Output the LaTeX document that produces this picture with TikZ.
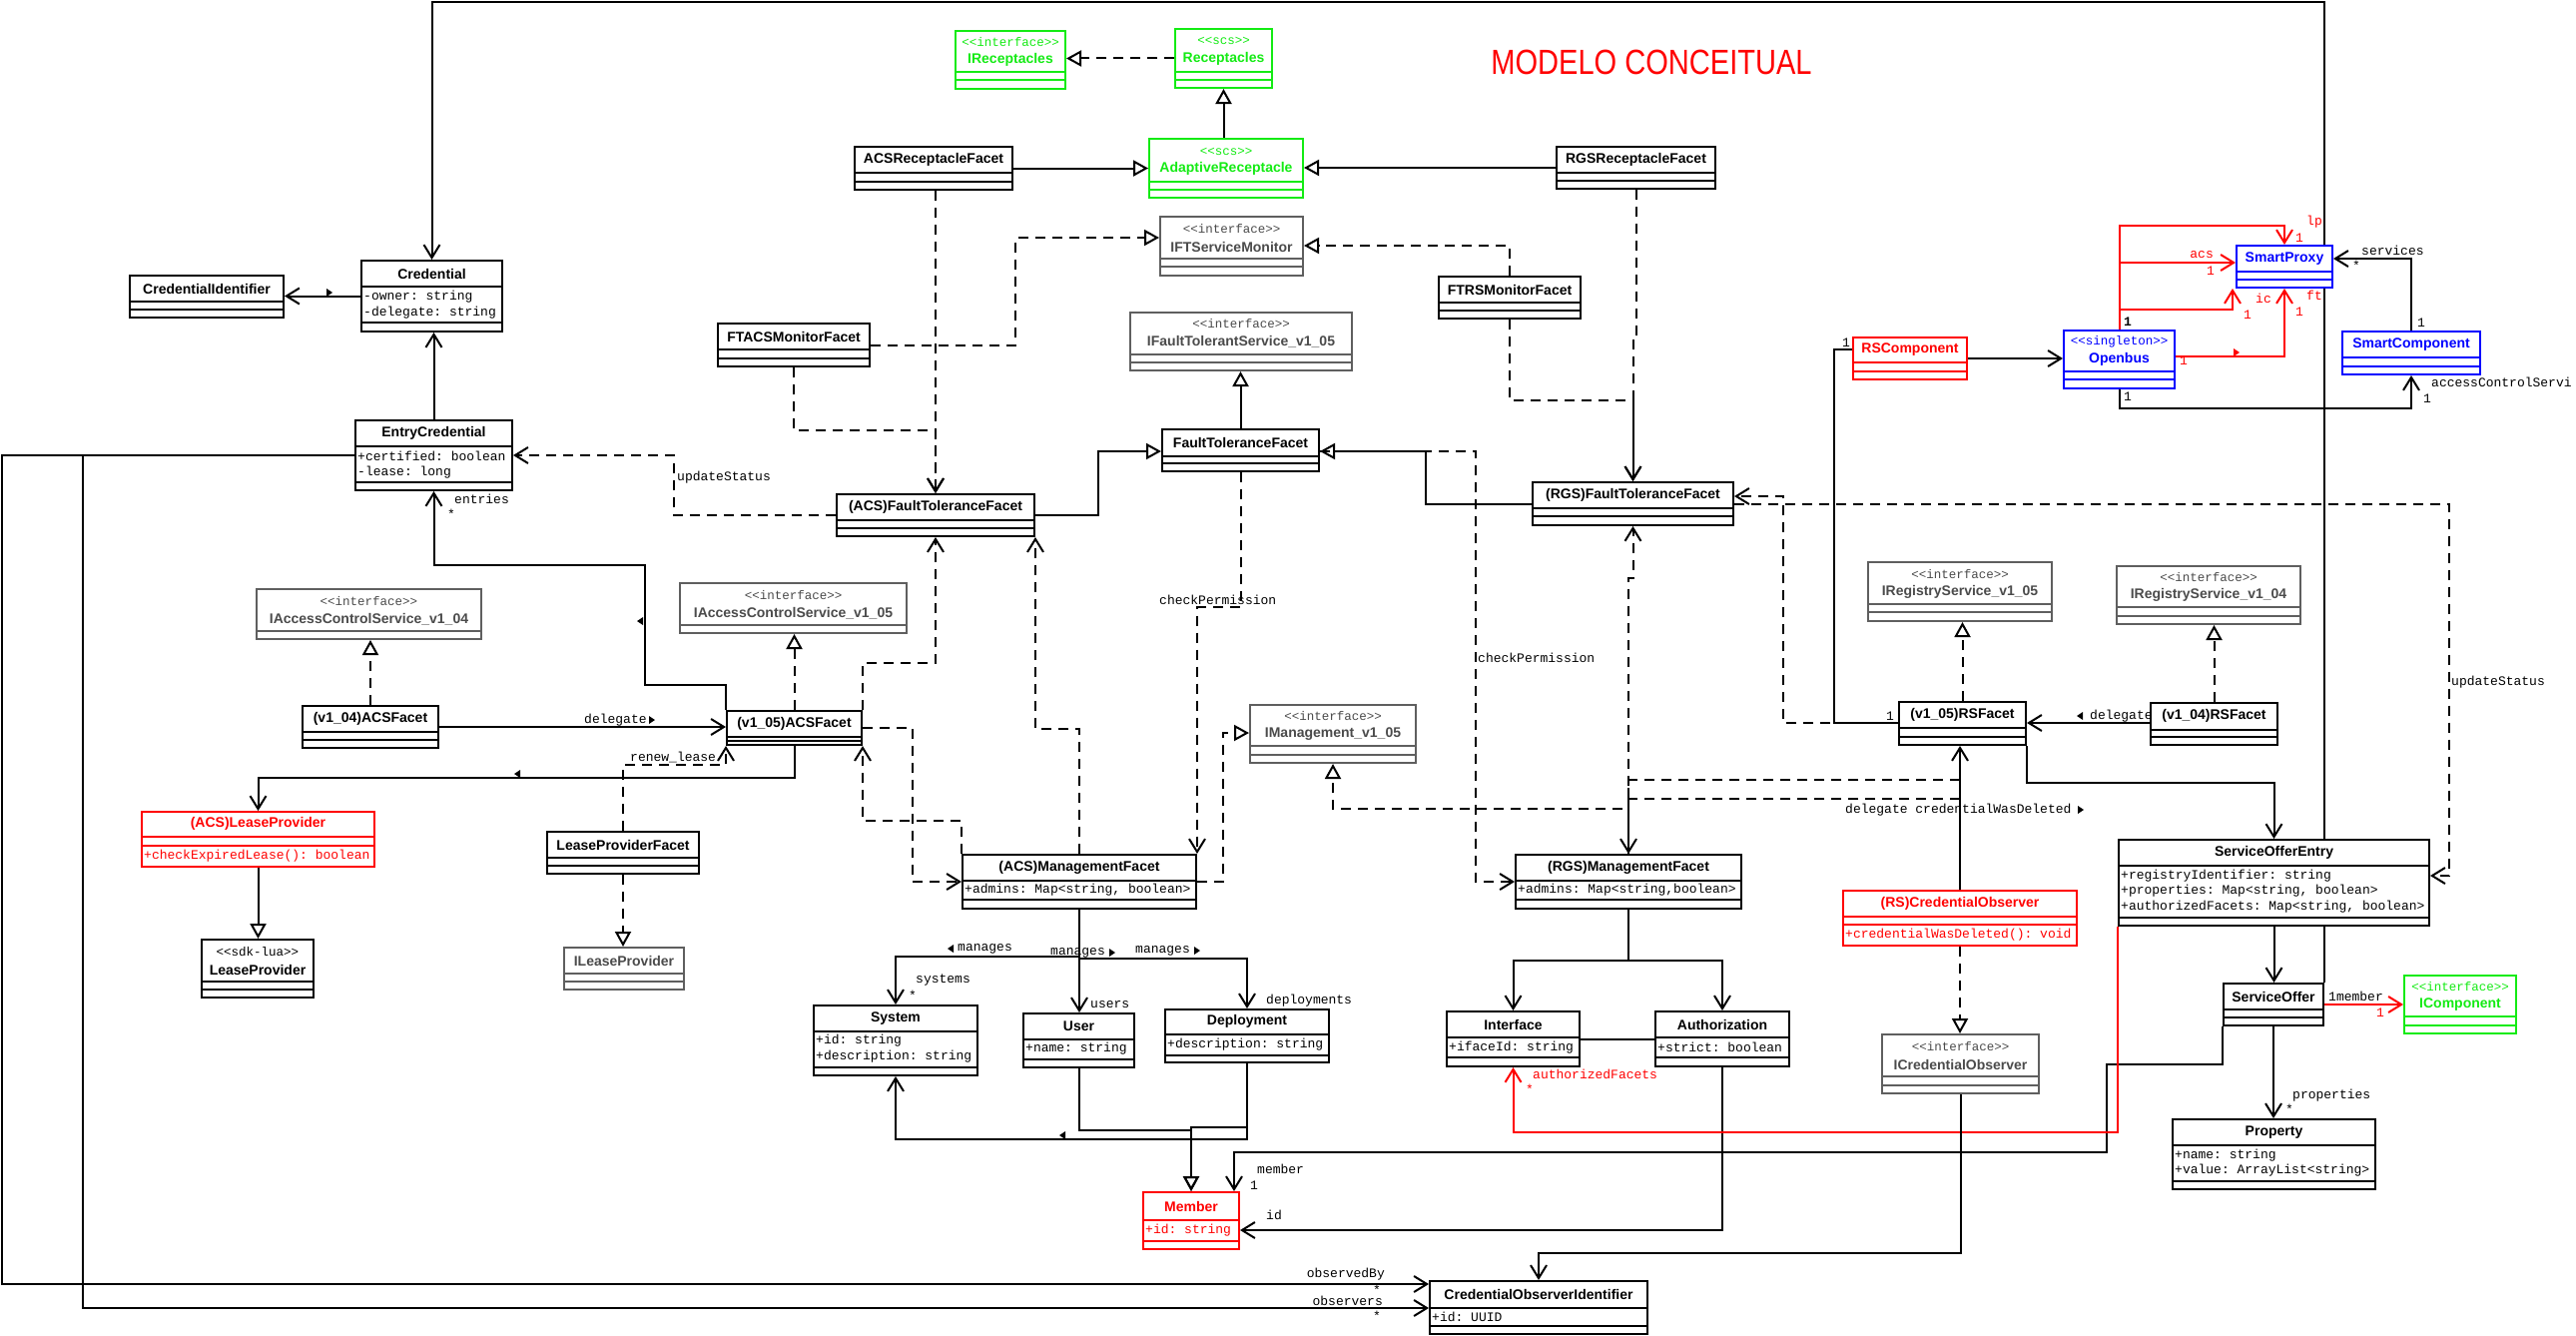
\documentclass[tikz,border=0pt]{standalone}
\usepackage{fontspec}
\setmainfont{Liberation Sans}
\setmonofont{Liberation Mono}
\usepackage{graphicx}
\usetikzlibrary{arrows.meta,fit,calc}
\definecolor{ured}{RGB}{255,0,0}
\definecolor{ugreen}{RGB}{20,235,20}
\definecolor{ublue}{RGB}{0,0,255}
\definecolor{ugray}{RGB}{95,95,95}
\definecolor{ugtxt}{RGB}{75,75,75}
\pgfdeclarelayer{back}
\pgfdeclarelayer{bg}
\pgfsetlayers{back,bg,main}
\tikzset{
 umlbox/.style={draw, fill=white, line width=2pt, inner sep=0pt},
 sepline/.style={line width=2pt},
 cname/.style={font=\fontsize{14}{16}\selectfont\bfseries, inner sep=0pt},
 stereo/.style={font=\ttfamily\fontsize{12.5}{14}\selectfont, inner sep=0pt},
 attr/.style={font=\ttfamily\fontsize{13}{15}\selectfont, inner sep=0pt, anchor=west},
 lbl/.style={font=\ttfamily\fontsize{13}{15}\selectfont, inner sep=0pt, anchor=west},
 conn/.style={line width=2pt},
 assoc/.style={conn, -{Straight Barb[length=13pt,width=16pt]}},
 dep/.style={assoc, dash pattern=on 10pt off 7pt},
 dashln/.style={conn, dash pattern=on 10pt off 7pt},
 gen/.style={conn, -{Triangle[open,length=15pt,width=16pt]}},
 real/.style={gen, dash pattern=on 10pt off 7pt},
}
\newcommand\ubox[8]{%
 \node[umlbox, draw=#2, fit={(#3,#4) (#5,#6)}] (#1) {};
 \draw[sepline, #2] (#3,#7) -- (#5,#7);
 \draw[sepline, #2] (#3,#8) -- (#5,#8);
}
\newcommand\clsT[4]{\node[cname, text=#3] (#1-t) at (#1.north |- 0,#2) {#4};}
\newcommand\clsS[4]{\node[stereo, text=#3] (#1-s) at (#1.north |- 0,#2) {#4};}
\newcommand\clsA[5]{\node[attr, text=#4, xshift=3pt] (#1-a#2) at (#1.west |- 0,#3) {#5};}
\newcommand\lblx[5]{\node[lbl, text=#4] (#1) at (#2,#3) {#5};}
\newcommand\mR[3]{\fill[#3] (#1,#2) -- ++(-6,-4) -- ++(0,8) -- cycle;}
\newcommand\mL[3]{\fill[#3] (#1,#2) -- ++(6,-4) -- ++(0,8) -- cycle;}
\begin{document}
\begin{tikzpicture}[x=1pt,y=-1pt]
\useasboundingbox (0,0) rectangle (2580,1338);
\begin{pgfonlayer}{back}
\fill[white] (0,0) rectangle (2580,1338);
\end{pgfonlayer}

\node[text=ured, font=\fontsize{35}{40}\selectfont, inner sep=0pt] (title) at (1654,62) {\scalebox{0.83}[1]{MODELO CONCEITUAL}};

% ---------- classes ----------
\ubox{CI}{black}{130}{276}{284}{318}{302}{310}
\clsT{CI}{289}{black}{CredentialIdentifier}
\ubox{Cred}{black}{362}{261}{503}{332}{287}{323}
\clsT{Cred}{274}{black}{Credential}
\clsA{Cred}{1}{297}{black}{-owner: string}
\clsA{Cred}{2}{313}{black}{-delegate: string}
\ubox{EC}{black}{356}{421}{513}{491}{447}{483}
\clsT{EC}{434}{black}{EntryCredential}
\clsA{EC}{1}{457}{black}{+certified: boolean}
\clsA{EC}{2}{473}{black}{-lease: long}
\ubox{IRecep}{ugreen}{957}{31}{1067}{89}{72}{80}
\clsS{IRecep}{42}{ugreen}{<<interface>>}
\clsT{IRecep}{60}{ugreen}{IReceptacles}
\ubox{Recep}{ugreen}{1177}{29}{1274}{88}{72}{80}
\clsS{Recep}{41}{ugreen}{<<scs>>}
\clsT{Recep}{59}{ugreen}{Receptacles}
\ubox{AR}{ugreen}{1151}{139}{1305}{198}{182}{190}
\clsS{AR}{152}{ugreen}{<<scs>>}
\clsT{AR}{169}{ugreen}{AdaptiveReceptacle}
\ubox{ACSRF}{black}{856}{147}{1014}{190}{173}{182}
\clsT{ACSRF}{160}{black}{ACSReceptacleFacet}
\ubox{RGSRF}{black}{1559}{147}{1718}{189}{173}{181}
\clsT{RGSRF}{160}{black}{RGSReceptacleFacet}
\ubox{IFTSM}{ugray}{1162}{217}{1305}{276}{259}{267}
\clsS{IFTSM}{229}{ugtxt}{<<interface>>}
\clsT{IFTSM}{247}{ugtxt}{IFTServiceMonitor}
\ubox{FTACS}{black}{719}{324}{871}{367}{350}{359}
\clsT{FTACS}{337}{black}{FTACSMonitorFacet}
\ubox{FTRS}{black}{1441}{277}{1583}{319}{303}{311}
\clsT{FTRS}{290}{black}{FTRSMonitorFacet}
\ubox{IFTS}{ugray}{1132}{313}{1354}{371}{355}{363}
\clsS{IFTS}{324}{ugtxt}{<<interface>>}
\clsT{IFTS}{342}{ugtxt}{IFaultTolerantService\_v1\_05}
\ubox{FTF}{black}{1164}{430}{1321}{472}{457}{464}
\clsT{FTF}{443}{black}{FaultToleranceFacet}
\ubox{ACSFTF}{black}{838}{495}{1036}{537}{521}{529}
\clsT{ACSFTF}{508}{black}{(ACS)FaultToleranceFacet}
\ubox{RGSFTF}{black}{1535}{483}{1736}{526}{509}{517}
\clsT{RGSFTF}{496}{black}{(RGS)FaultToleranceFacet}
\ubox{IACS4}{ugray}{257}{590}{482}{640}{632}{632}
\clsS{IACS4}{602}{ugtxt}{<<interface>>}
\clsT{IACS4}{620}{ugtxt}{IAccessControlService\_v1\_04}
\ubox{IACS5}{ugray}{681}{584}{908}{634}{626}{626}
\clsS{IACS5}{596}{ugtxt}{<<interface>>}
\clsT{IACS5}{614}{ugtxt}{IAccessControlService\_v1\_05}
\ubox{V4ACS}{black}{303}{707}{439}{749}{733}{741}
\clsT{V4ACS}{720}{black}{(v1\_04)ACSFacet}
\ubox{V5ACS}{black}{728}{712}{863}{746}{738}{742}
\clsT{V5ACS}{725}{black}{(v1\_05)ACSFacet}
\ubox{ACSLP}{ured}{142}{813}{375}{868}{838}{847}
\clsT{ACSLP}{825}{ured}{(ACS)LeaseProvider}
\clsA{ACSLP}{1}{857}{ured}{+checkExpiredLease(): boolean}
\ubox{LPF}{black}{548}{833}{700}{875}{859}{867}
\clsT{LPF}{846}{black}{LeaseProviderFacet}
\ubox{LP}{black}{202}{941}{314}{999}{983}{991}
\clsS{LP}{953}{black}{<<sdk-lua>>}
\clsT{LP}{971}{black}{LeaseProvider}
\ubox{ILP}{ugray}{565}{949}{685}{991}{975}{983}
\clsT{ILP}{962}{ugtxt}{ILeaseProvider}
\ubox{IMgmt}{ugray}{1252}{706}{1418}{764}{747}{756}
\clsS{IMgmt}{717}{ugtxt}{<<interface>>}
\clsT{IMgmt}{735}{ugtxt}{IManagement\_v1\_05}
\ubox{ACSMF}{black}{964}{856}{1198}{910}{882}{901}
\clsT{ACSMF}{869}{black}{(ACS)ManagementFacet}
\clsA{ACSMF}{1}{891}{black}{+admins: Map<string, boolean>}
\ubox{RGSMF}{black}{1518}{856}{1744}{910}{882}{901}
\clsT{RGSMF}{869}{black}{(RGS)ManagementFacet}
\clsA{RGSMF}{1}{891}{black}{+admins: Map<string,boolean>}
\ubox{System}{black}{815}{1007}{979}{1077}{1033}{1069}
\clsT{System}{1020}{black}{System}
\clsA{System}{1}{1042}{black}{+id: string}
\clsA{System}{2}{1058}{black}{+description: string}
\ubox{User}{black}{1025}{1015}{1136}{1069}{1041}{1061}
\clsT{User}{1028}{black}{User}
\clsA{User}{1}{1050}{black}{+name: string}
\ubox{Deployment}{black}{1167}{1011}{1331}{1064}{1036}{1057}
\clsT{Deployment}{1023}{black}{Deployment}
\clsA{Deployment}{1}{1046}{black}{+description: string}
\ubox{Member}{ured}{1145}{1194}{1241}{1251}{1222}{1243}
\clsT{Member}{1208}{ured}{Member}
\clsA{Member}{1}{1232}{ured}{+id: string}
\ubox{Interface}{black}{1449}{1013}{1582}{1068}{1039}{1059}
\clsT{Interface}{1026}{black}{Interface}
\clsA{Interface}{1}{1049}{black}{+ifaceId: string}
\ubox{Authorization}{black}{1658}{1013}{1792}{1068}{1039}{1059}
\clsT{Authorization}{1026}{black}{Authorization}
\clsA{Authorization}{1}{1049}{black}{+strict: boolean}
\ubox{COI}{black}{1432}{1283}{1650}{1336}{1310}{1328}
\clsT{COI}{1296}{black}{CredentialObserverIdentifier}
\clsA{COI}{1}{1319}{black}{+id: UUID}
\ubox{RSComp}{ured}{1856}{338}{1970}{380}{363}{372}
\clsT{RSComp}{350}{ured}{RSComponent}
\ubox{SP}{ublue}{2240}{246}{2336}{288}{272}{280}
\clsT{SP}{259}{ublue}{SmartProxy}
\ubox{OB}{ublue}{2067}{331}{2178}{389}{372}{380}
\clsS{OB}{342}{ublue}{<<singleton>>}
\clsT{OB}{360}{ublue}{Openbus}
\ubox{SC}{ublue}{2346}{332}{2484}{375}{358}{367}
\clsT{SC}{345}{ublue}{SmartComponent}
\ubox{IRS5}{ugray}{1871}{563}{2055}{622}{605}{613}
\clsS{IRS5}{575}{ugtxt}{<<interface>>}
\clsT{IRS5}{593}{ugtxt}{IRegistryService\_v1\_05}
\ubox{IRS4}{ugray}{2120}{567}{2304}{625}{608}{617}
\clsS{IRS4}{578}{ugtxt}{<<interface>>}
\clsT{IRS4}{596}{ugtxt}{IRegistryService\_v1\_04}
\ubox{V5RS}{black}{1902}{703}{2029}{746}{729}{738}
\clsT{V5RS}{716}{black}{(v1\_05)RSFacet}
\ubox{V4RS}{black}{2154}{704}{2281}{746}{731}{738}
\clsT{V4RS}{717}{black}{(v1\_04)RSFacet}
\ubox{SOE}{black}{2122}{841}{2433}{927}{867}{919}
\clsT{SOE}{854}{black}{ServiceOfferEntry}
\clsA{SOE}{1}{877}{black}{+registryIdentifier: string}
\clsA{SOE}{2}{892}{black}{+properties: Map<string, boolean>}
\clsA{SOE}{3}{908}{black}{+authorizedFacets: Map<string, boolean>}
\ubox{RSCO}{ured}{1846}{892}{2080}{947}{918}{926}
\clsT{RSCO}{905}{ured}{(RS)CredentialObserver}
\clsA{RSCO}{1}{936}{ured}{+credentialWasDeleted(): void}
\ubox{ICO}{ugray}{1885}{1036}{2042}{1095}{1078}{1087}
\clsS{ICO}{1048}{ugtxt}{<<interface>>}
\clsT{ICO}{1066}{ugtxt}{ICredentialObserver}
\ubox{SO}{black}{2227}{985}{2327}{1027}{1011}{1019}
\clsT{SO}{998}{black}{ServiceOffer}
\ubox{IComp}{ugreen}{2408}{977}{2520}{1035}{1018}{1027}
\clsS{IComp}{988}{ugreen}{<<interface>>}
\clsT{IComp}{1006}{ugreen}{IComponent}
\ubox{Prop}{black}{2176}{1121}{2379}{1191}{1147}{1183}
\clsT{Prop}{1134}{black}{Property}
\clsA{Prop}{1}{1157}{black}{+name: string}
\clsA{Prop}{2}{1172}{black}{+value: ArrayList<string>}

% ---------- connectors ----------
\begin{pgfonlayer}{bg}
\draw[assoc] (Cred.west) -- (Cred.west -| CI.east);
\draw[assoc] (SO.north east) -- (SO.north east |- 0,2) -- (Cred.north |- 0,2) -- (Cred.north);
\draw[assoc] (EC.north) -- (EC.north |- Cred.south);
\draw[assoc] (V5ACS.north west) -- (V5ACS.north west |- 0,686) -| (646,566) -| (EC.south);
\draw[assoc] (EC.west |- 0,456) -- (2,456) -- (2,1286) -- (COI.west |- 0,1286);
\draw[assoc] (EC.west |- 0,456) -| (83,1310) -- (COI.west |- 0,1310);
% receptacles
\draw[gen] (ACSRF.east) -- (ACSRF.east -| AR.west);
\draw[gen] (RGSRF.west) -- (RGSRF.west -| AR.east);
\draw[gen] (AR.north -| Recep.south) -- (Recep.south);
\draw[real] (Recep.west) -- (Recep.west -| IRecep.east);
\draw[real] (FTACS.east) -| (1017,238) -- (IFTSM.west |- 0,238);
\draw[real] (FTRS.north) |- (IFTSM.east |- 0,246);
\draw[dep] (ACSRF.south -| ACSFTF.north) -- (ACSFTF.north);
\draw[dep] (FTACS.south) |- (ACSFTF.north |- 0,431) -- (ACSFTF.north);
\draw[dep] (RGSRF.south) -- (RGSRF.south |- 0,335) -- (RGSFTF.north |- 0,335) -- (RGSFTF.north);
\draw[dep] (FTRS.south) |- (RGSFTF.north |- 0,401) -- (RGSFTF.north);
\draw[gen] (FTF.north) -- (FTF.north |- IFTS.south);
\draw[gen] (ACSFTF.east) -| (1100,452) -- (FTF.west |- 0,452);
\draw[gen] (RGSFTF.west) -| (1428,452) -- (FTF.east |- 0,452);
\draw[dep] (ACSFTF.west) -| (675,456) -- (EC.east |- 0,456);
\draw[dep] (FTF.south) |- (ACSMF.north east |- 0,608) -- (ACSMF.north east);
\draw[dep] (FTF.east |- 0,452) -- (1478,452) |- (RGSMF.west |- 0,883);
% ACS facets
\draw[real] (V4ACS.north) -- (V4ACS.north |- IACS4.south);
\draw[real] (V5ACS.north) -- (V5ACS.north |- IACS5.south);
\draw[assoc] (V4ACS.east) -- (V4ACS.east -| V5ACS.west);
\draw[assoc] (V5ACS.south) |- (ACSLP.north |- 0,779) -- (ACSLP.north);
\draw[dep] (LPF.north) |- (V5ACS.south west |- 0,766) -- (V5ACS.south west);
\draw[gen] (ACSLP.south) -- (ACSLP.south |- LP.north);
\draw[real] (LPF.south) -- (LPF.south |- ILP.north);
\draw[dep] (V5ACS.east) -| (914,883) -- (ACSMF.west |- 0,883);
\draw[dep] (ACSMF.north west) |- (V5ACS.south east |- 0,822) -- (V5ACS.south east);
\draw[dep] (V5ACS.north east) -- (V5ACS.north east |- 0,664) -| (ACSFTF.south);
\draw[dep] (ACSMF.north) -- (ACSMF.north |- 0,730) -| (ACSFTF.south east);
\draw[real] (ACSMF.east |- 0,883) -| (1225,734) -- (IMgmt.west |- 0,734);
% manages
\draw[assoc] (ACSMF.south) |- (System.north |- 0,958) -- (System.north);
\draw[assoc] (ACSMF.south) -- (ACSMF.south |- User.north);
\draw[assoc] (ACSMF.south) |- (Deployment.north |- 0,960) -- (Deployment.north);
\draw[gen] (User.south) |- (Member.north |- 0,1132) -- (Member.north);
\draw[gen] (Deployment.south) |- (Member.north |- 0,1129) -- (Member.north);
\draw[assoc] (Deployment.south) |- (System.south |- 0,1141) -- (System.south);
% RGS
\draw[assoc] (RGSMF.south) |- (Interface.north |- 0,962) -- (Interface.north);
\draw[assoc] (RGSMF.south) |- (Authorization.north |- 0,962) -- (Authorization.north);
\draw[conn] (Interface.east |- 0,1041) -- (Authorization.west |- 0,1041);
\draw[assoc] (Authorization.south) |- (Member.east |- 0,1232);
\draw[assoc] (SO.south west) |- (2110,1066) |- (1236,1154) -- (Member.north -| 1236,0);
\draw[assoc, ured] (SOE.south west) |- (Interface.south |- 0,1134) -- (Interface.south);
\draw[assoc] (SOE.south) -- (SOE.south |- SO.north);
\draw[assoc] (SO.south) -- (SO.south |- Prop.north);
\draw[assoc, ured] (SO.east) -- (SO.east -| IComp.west);
\draw[assoc] (V5RS.south east) |- (SOE.north |- 0,784) -- (SOE.north);
\draw[assoc] (RSCO.north) -- (RSCO.north |- V5RS.south);
\draw[real] (RSCO.south) -- (RSCO.south |- ICO.north);
\draw[assoc] (ICO.south) |- (COI.north |- 0,1255) -- (COI.north);
\draw[real] (V5RS.north) -- (V5RS.north |- IRS5.south);
\draw[real] (V4RS.north) -- (V4RS.north |- IRS4.south);
\draw[assoc] (V4RS.west |- 0,724) -- (V5RS.east |- 0,724);
\draw[conn] (RSComp.west |- 0,350) -| (1837,724) -- (V5RS.west |- 0,724);
\draw[dep] (V5RS.west |- 0,724) -| (1786,497) -- (RGSFTF.east |- 0,497);
\draw[dep] (RGSFTF.east) -| (2453,877) -- (SOE.east |- 0,877);
\draw[dep] (RGSMF.north) -- (RGSMF.north |- 0,579) -- (RGSFTF.south |- 0,579) -- (RGSFTF.south);
\draw[real] (RGSMF.north) -- (RGSMF.north |- 0,810) -| (IMgmt.south);
\draw[dashln] (RSCO.north |- 0,781) -- (RGSMF.north |- 0,781) -- (RGSMF.north |- 0,800);
\draw[dashln] (RSCO.north |- 0,800) -- (RGSMF.north |- 0,800);
\draw[assoc] (RGSMF.north |- 0,800) -- (RGSMF.north);
% Openbus
\draw[assoc] (RSComp.east) -- (RSComp.east -| OB.west);
\draw[assoc, ured] (OB.north) |- (SP.north |- 0,226) -- (SP.north);
\draw[assoc, ured] (OB.north) |- (SP.west |- 0,263);
\draw[assoc, ured] (OB.north) |- (2236,310) -- (SP.south west -| 2236,0);
\draw[assoc, ured] (OB.east |- 0,357) -| (SP.south);
\draw[assoc] (SC.north) |- (SP.east |- 0,259);
\draw[assoc] (OB.south) |- (SC.south |- 0,409) -- (SC.south);
\end{pgfonlayer}

% ---------- markers ----------
\mR{333}{293}{black}
\mL{638}{622}{black}
\mR{656}{721}{black}
\mL{515}{775}{black}
\mL{949}{950}{black}
\mR{1117}{954}{black}
\mR{1202}{952}{black}
\mL{1061}{1137}{black}
\mL{2080}{717}{black}
\mR{2087}{811}{black}
\mR{2243}{353}{ured}

% ---------- labels ----------
\lblx{l1}{455}{500}{black}{entries}
\lblx{l2}{448}{515}{black}{*}
\lblx{l3}{678}{478}{black}{updateStatus}
\lblx{l4}{585}{721}{black}{delegate}
\lblx{l5}{631}{758}{black}{renew\_lease}
\lblx{l6}{1161}{601}{black}{checkPermission}
\lblx{l7}{1480}{659}{black}{checkPermission}
\lblx{l8}{959}{950}{black}{manages}
\lblx{l9}{1052}{954}{black}{manages}
\lblx{l10}{1137}{952}{black}{manages}
\lblx{l11}{917}{982}{black}{systems}
\lblx{l12}{910}{997}{black}{*}
\lblx{l13}{1092}{1006}{black}{users}
\lblx{l14}{1268}{1002}{black}{deployments}
\lblx{l15}{1259}{1171}{black}{member}
\lblx{l16}{1252}{1187}{black}{1}
\lblx{l17}{1268}{1217}{black}{id}
\lblx{l18}{1535}{1076}{ured}{authorizedFacets}
\lblx{l19}{1528}{1091}{ured}{*}
\node[lbl, anchor=east] (l20) at (1387,1276) {observedBy};
\lblx{l21}{1375}{1292}{black}{*}
\node[lbl, anchor=east] (l22) at (1385,1303) {observers};
\lblx{l23}{1375}{1318}{black}{*}
\lblx{l24}{1845}{343}{black}{1}
\lblx{l25}{1889}{717}{black}{1}
\lblx{l26}{1848}{811}{black}{delegate credentialWasDeleted}
\lblx{l27}{2093}{717}{black}{delegate}
\lblx{l28}{2455}{683}{black}{updateStatus}
\lblx{l29}{2310}{222}{ured}{lp}
\lblx{l30}{2299}{238}{ured}{1}
\node[lbl, anchor=east, text=ured] (l31) at (2217,255) {acs};
\lblx{l32}{2210}{271}{ured}{1}
\lblx{l33}{2259}{299}{ured}{ic}
\lblx{l34}{2247}{315}{ured}{1}
\lblx{l35}{2310}{296}{ured}{ft}
\lblx{l36}{2299}{312}{ured}{1}
\lblx{l37}{2183}{361}{ured}{1}
\node[lbl, font=\ttfamily\bfseries\fontsize{13}{15}\selectfont] (l38) at (2127,322) {1};
\lblx{l39}{2365}{251}{black}{services}
\lblx{l40}{2356}{266}{black}{*}
\lblx{l41}{2421}{323}{black}{1}
\lblx{l42}{2127}{397}{black}{1}
\lblx{l43}{2435}{383}{black}{accessControlServi}
\lblx{l44}{2427}{399}{black}{1}
\lblx{l45}{2332}{998}{black}{1member}
\lblx{l46}{2380}{1014}{ured}{1}
\lblx{l47}{2296}{1097}{black}{properties}
\lblx{l48}{2289}{1111}{black}{*}
\end{tikzpicture}
\end{document}
